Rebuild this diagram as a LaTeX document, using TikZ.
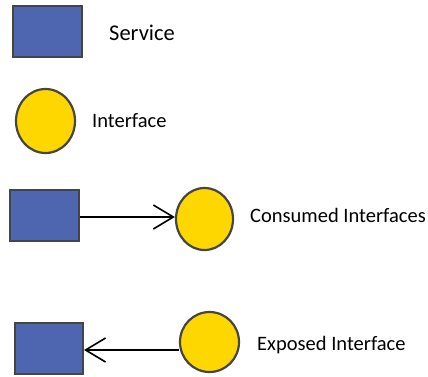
\documentclass[tikz,border=0pt]{standalone}
\usepackage{fontspec}
\setmainfont{Carlito}
\usetikzlibrary{arrows.meta,shapes.geometric}
\definecolor{svcblue}{HTML}{4E66B0}
\definecolor{ifyellow}{HTML}{FFD700}
\definecolor{edge}{HTML}{454545}
\tikzset{
  svc/.style={draw=edge, line width=2pt, fill=svcblue},
  iface/.style={draw=edge, line width=2.2pt, fill=ifyellow},
  lbl/.style={anchor=west, inner sep=0pt, font=\fontsize{20.5}{24}\selectfont},
  conn/.style={line width=1.6pt, -{Straight Barb[length=20pt,width=24pt,line width=1.6pt]}}
}
\begin{document}
\begin{tikzpicture}[x=1pt,y=-1pt]
\useasboundingbox (0,0) rectangle (428,376);
% row 1
\node[svc, minimum width=69pt, minimum height=51pt, inner sep=0pt] (s1) at (47.5,31.5) {};
\node[lbl, font=\fontsize{22.5}{26}\selectfont] (t1) at (109,33) {Service};
% row 2
\node[iface, ellipse, minimum width=59pt, minimum height=64pt, inner sep=0pt] (c1) at (45.5,121) {};
\node[lbl] (t2) at (92,121) {Interface};
% row 3
\node[svc, minimum width=69pt, minimum height=51pt, inner sep=0pt] (s2) at (44.5,215.5) {};
\node[iface, ellipse, minimum width=57pt, minimum height=62pt, inner sep=0pt] (c2) at (204.5,219) {};
\node[lbl] (t3) at (250,215) {Consumed Interfaces};
\draw[conn] (s2.east |- 0,217) -- (c2.west |- 0,217);
% row 4
\node[svc, minimum width=68pt, minimum height=51pt, inner sep=0pt] (s3) at (49,348.5) {};
\node[iface, ellipse, minimum width=59pt, minimum height=60pt, inner sep=0pt] (c3) at (209.5,342) {};
\node[lbl] (t4) at (257,345) {Exposed Interface};
\draw[conn] (c3.west |- 0,350) -- (s3.east |- 0,350);
\end{tikzpicture}
\end{document}
